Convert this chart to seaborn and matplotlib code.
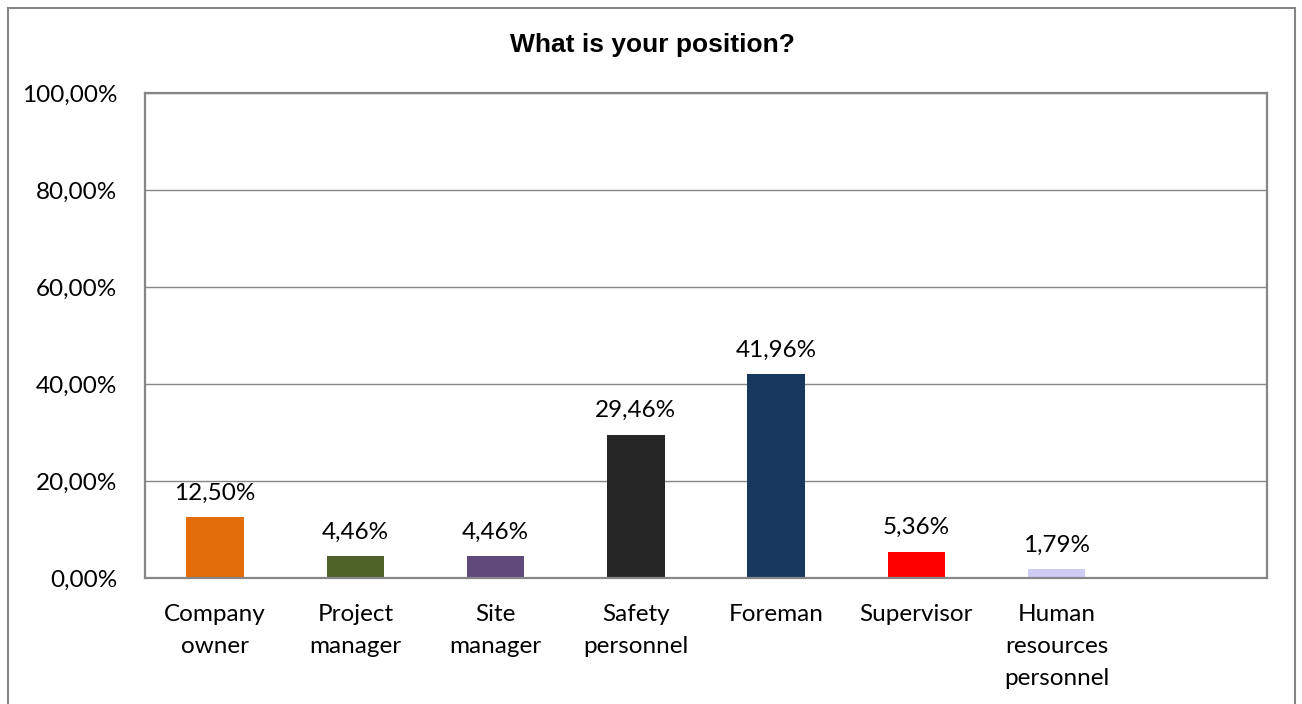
import matplotlib
matplotlib.use("Agg")
import matplotlib.pyplot as plt
import seaborn as sns
import pandas as pd
from matplotlib.patches import Rectangle
from matplotlib.ticker import FixedLocator, FuncFormatter

categories = ["Company\nowner", "Project\nmanager", "Site\nmanager", "Safety\npersonnel",
              "Foreman", "Supervisor", "Human\nresources\npersonnel"]
values = [12.50, 4.46, 4.46, 29.46, 41.96, 5.36, 1.79]
colors = ["#E46C0A", "#4F6228", "#604A7B", "#262626", "#17375E", "#FF0000", "#CCCCF5"]
yticks = [0, 20, 40, 60, 80, 100]

sns.set_theme(style="white")
plt.rcParams["font.family"] = ["Lato", "DejaVu Sans"]
plt.rcParams["text.color"] = "black"

df = pd.DataFrame({"cat": categories, "val": values})

fig = plt.figure(figsize=(13.02, 7.04), dpi=100)
ax = fig.add_axes([145/1302, 1-578/704, (1267-145)/1302, (578-93)/704])

sns.barplot(data=df, x="cat", y="val", hue="cat", palette=colors, legend=False,
            width=0.41, ax=ax, saturation=1, linewidth=0)

ax.set_xlim(-0.5, 7.5)
ax.set_ylim(0, 100)
ax.set_yticks(yticks)
ax.yaxis.set_major_formatter(FuncFormatter(lambda v, p: f"{v:.2f}".replace(".", ",") + "%"))
ax.grid(axis="y", color="#868686", linewidth=1.0)
ax.set_axisbelow(True)
for s in ax.spines.values():
    s.set_color("#868686")
    s.set_linewidth(1.6)
ax.set_xlabel("")
ax.set_ylabel("")
ax.tick_params(axis="y", length=0, labelsize=17.5, pad=20, colors="black")
ax.tick_params(axis="x", which="major", length=0, labelsize=17.5, pad=19, colors="black")
ax.xaxis.set_minor_locator(FixedLocator([i + 0.5 for i in range(7)]))
ax.tick_params(axis="x", which="minor", direction="in", length=7, width=1.2, color="#868686")
for lbl in ax.get_xticklabels():
    lbl.set_linespacing(1.65)

for i, v in enumerate(values):
    ax.annotate(f"{v:.2f}".replace(".", ",") + "%", (i, v), xytext=(0, 10),
                textcoords="offset points", ha="center", va="bottom", fontsize=17.5,
                color="black")

fig.text(652/1302, 1-45/704, "What is your position?", ha="center", va="center",
         fontsize=19, fontweight="bold", color="black",
         family=["Liberation Sans", "DejaVu Sans"])

fig.patches.append(Rectangle((8/1302, -0.02), 1287/1302, 1.02 - 8/704, transform=fig.transFigure,
                             fill=False, edgecolor="#868686", linewidth=1.5))

fig.savefig("out.png", dpi=100)
